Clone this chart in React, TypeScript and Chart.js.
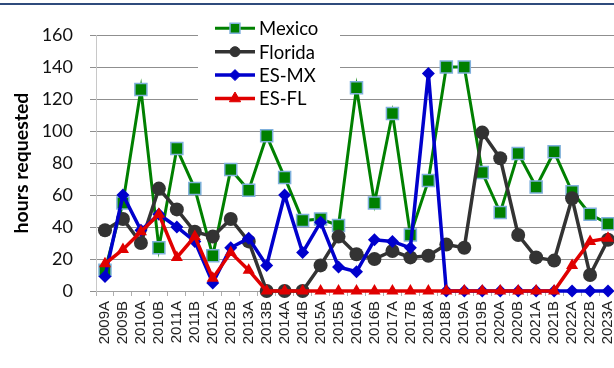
import React, { useEffect, useRef } from "react";
import { Chart, registerables } from "chart.js";
import { drawPoint } from "chart.js/helpers";

Chart.register(...registerables);

const categories = [
  "2009A", "2009B", "2010A", "2010B", "2011A", "2011B", "2012A", "2012B",
  "2013A", "2013B", "2014A", "2014B", "2015A", "2015B", "2016A", "2016B",
  "2017A", "2017B", "2018A", "2018B", "2019A", "2019B", "2020A", "2020B",
  "2021A", "2021B", "2022A", "2022B", "2023A",
];

const mexico = [13, 55, 126, 27, 89, 64, 22, 76, 63, 97, 71, 44, 45, 41, 127, 55, 111, 35, 69, 140, 140, 74, 49, 86, 65, 87, 62, 48, 42];
const florida = [38, 45, 30, 64, 51, 37, 34, 45, 31, 0, 0, 0, 16, 34, 23, 20, 25, 21, 22, 29, 27, 99, 83, 35, 21, 19, 58, 10, 32];
const esmx = [9, 60, 38, 48, 40, 31, 5, 27, 33, 16, 60, 24, 43, 15, 12, 32, 31, 27, 136, 0, 0, 0, 0, 0, 0, 0, 0, 0, 0];
const esfl = [17, 26, 37, 48, 21, 34, 8, 24, 13, 0, 0, 0, 0, 0, 0, 0, 0, 0, 0, 0, 0, 0, 0, 0, 0, 0, 16, 31, 33];

const yTicks = [0, 20, 40, 60, 80, 100, 120, 140, 160];

const legendItems = [
  { label: "Mexico", color: "#008000", style: "rect", radius: 7, border: "#7fb0dc", lw: 3 },
  { label: "Florida", color: "#333333", style: "circle", radius: 5, border: "#333333", lw: 3.5 },
  { label: "ES-MX", color: "#0000cc", style: "rectRot", radius: 5.5, border: "#0000cc", lw: 3.5 },
  { label: "ES-FL", color: "#e00000", style: "triangle", radius: 6.5, border: "#e00000", lw: 3.5 },
];

const legendPlugin = {
  id: "customLegend",
  beforeDatasetsDraw(chart: any) {
    const ctx = chart.ctx;
    ctx.save();
    ctx.fillStyle = "#ffffff";
    ctx.fillRect(198, 14, 142, 96);
    ctx.restore();
  },
  afterDraw(chart: any) {
    const ctx = chart.ctx;
    ctx.save();
    legendItems.forEach((it, i) => {
      const y = 28.3 + i * 23.4;
      ctx.strokeStyle = it.color;
      ctx.lineWidth = it.lw;
      ctx.beginPath();
      ctx.moveTo(215, y);
      ctx.lineTo(255, y);
      ctx.stroke();
      ctx.fillStyle = it.color;
      ctx.strokeStyle = it.border;
      ctx.lineWidth = it.style === "rect" ? 1.5 : 1;
      drawPoint(ctx, { pointStyle: it.style, rotation: 0, borderWidth: ctx.lineWidth, radius: it.radius } as any, 235, y);
      ctx.fillStyle = "#000000";
      ctx.font = "18.5px Lato";
      ctx.textBaseline = "middle";
      ctx.textAlign = "left";
      ctx.fillText(it.label, 259, y + 1);
    });
    ctx.restore();
  },
};

export default function App() {
  const ref = useRef<HTMLCanvasElement>(null);

  useEffect(() => {
    if (!ref.current) return;
    const chart = new Chart(ref.current, {
      type: "line",
      data: {
        labels: categories,
        datasets: [
          {
            label: "Mexico",
            data: mexico,
            borderColor: "#008000",
            backgroundColor: "#008000",
            borderWidth: 3,
            pointStyle: "rect",
            pointRadius: 8.5,
            pointBorderColor: "#7fb0dc",
            pointBorderWidth: 1.5,
            pointBackgroundColor: "#008000",
            clip: false,
            order: 4,
          },
          {
            label: "Florida",
            data: florida,
            borderColor: "#333333",
            backgroundColor: "#333333",
            borderWidth: 3.5,
            pointStyle: "circle",
            pointRadius: 7,
            pointBorderWidth: 0,
            pointBackgroundColor: "#333333",
            clip: false,
            order: 3,
          },
          {
            label: "ES-MX",
            data: esmx,
            borderColor: "#0000cc",
            backgroundColor: "#0000cc",
            borderWidth: 3.5,
            pointStyle: "rectRot",
            pointRadius: 6.5,
            pointBorderWidth: 0,
            pointBackgroundColor: "#0000cc",
            clip: false,
            order: 2,
          },
          {
            label: "ES-FL",
            data: esfl,
            borderColor: "#e00000",
            backgroundColor: "#e00000",
            borderWidth: 3.5,
            pointStyle: "triangle",
            pointRadius: 7,
            pointBorderWidth: 0,
            pointBackgroundColor: "#e00000",
            clip: false,
            order: 1,
          },
        ],
      },
      options: {
        responsive: false,
        animation: false,
        devicePixelRatio: 1,
        layout: { padding: { left: 0, right: 23, top: 35, bottom: 0 } },
        plugins: { legend: { display: false }, tooltip: { enabled: false } },
        elements: { line: { tension: 0 } },
        scales: {
          x: {
            type: "category",
            offset: true,
            grid: {
              offset: true,
              drawOnChartArea: false,
              drawTicks: true,
              tickLength: 5,
              color: "#b0b0b0",
            },
            border: { color: "#a0a0a0" },
            ticks: {
              autoSkip: false,
              minRotation: 90,
              maxRotation: 90,
              padding: 5,
              color: "#222222",
              font: { family: "Liberation Sans", size: 15 },
            },
            afterFit: (s: any) => {
              s.height = 77;
            },
          },
          y: {
            min: 0,
            max: 160,
            afterBuildTicks: (s: any) => {
              s.ticks = yTicks.map((v) => ({ value: v }));
            },
            grid: { color: "#8f8f8f", tickLength: 6, drawTicks: true },
            border: { color: "#c8c8c8" },
            ticks: {
              padding: 17,
              color: "#111111",
              font: { family: "Lato", size: 18 },
            },
            title: {
              display: true,
              text: "hours requested",
              color: "#000000",
              font: { family: "Lato", size: 19.5, weight: "bold" },
              padding: { top: 10, bottom: 0 },
            },
            afterFit: (s: any) => {
              s.width = 96;
            },
          },
        },
      },
      plugins: [legendPlugin],
    });
    return () => chart.destroy();
  }, []);

  return (
    <div style={{ position: "fixed", left: 0, top: 0, width: 614, height: 368, overflow: "hidden", background: "#ffffff" }}>
      <div style={{ position: "absolute", left: 0, top: 3, width: 614, height: 2, background: "#2f4b7c" }} />
      <canvas ref={ref} width={640} height={368} style={{ display: "block", width: 640, height: 368 }} />
    </div>
  );
}
